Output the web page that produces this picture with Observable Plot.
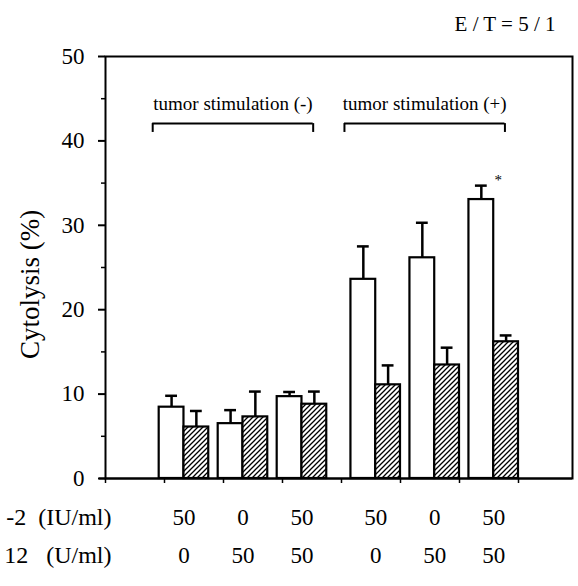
<!DOCTYPE html>
<html>
<head>
<meta charset="utf-8">
<script src="https://cdn.jsdelivr.net/npm/d3@7"></script>
<script src="https://cdn.jsdelivr.net/npm/@observablehq/plot@0.6"></script>
<style>
  html, body { margin: 0; padding: 0; background: white; overflow: hidden; }
  svg { display: block; }
</style>
</head>
<body>
<div id="chart"></div>
<script>
// ---- data ----
const il2Doses = ["50", "0", "50", "50", "0", "50"];
const il12Doses = ["0", "50", "50", "0", "50", "50"];
const openMean = [8.45, 6.5, 9.7, 23.6, 26.15, 33.05];
const openErr = [1.35, 1.6, 0.55, 3.9, 4.15, 1.65];
const hatchMean = [6.1, 7.3, 8.8, 11.1, 13.45, 16.2];
const hatchErr = [1.9, 3.0, 1.5, 2.3, 2.05, 0.75];
const bracketLabels = ["tumor stimulation (-)", "tumor stimulation (+)"];
const bracketGroups = [[0, 2], [3, 5]];
const rowLabels = ["-2\u00a0\u00a0(IU/ml)", "12\u00a0\u00a0\u00a0(U/ml)"];
const yTicks = [0, 10, 20, 30, 40, 50];
const yMinor = [5, 15, 25, 35, 45];
const yLabel = "Cytolysis (%)";
const title = "E / T = 5 / 1";

// ---- layout helpers ----
const center = i => 1.33 + i + (i >= 3 ? 0.25 : 0);
const bw = 0.42;
const cap = 0.1;
const rows = il2Doses.map((d, i) => ({
  c: center(i), il2: d, il12: il12Doses[i],
  om: openMean[i], oe: openErr[i], hm: hatchMean[i], he: hatchErr[i]
}));
const brackets = bracketLabels.map((t, k) => ({
  text: t,
  x1: center(bracketGroups[k][0]) - 0.53,
  x2: center(bracketGroups[k][1]) + 0.19
}));
const bracketY = 42.05, bracketTick = 41.0;

const font = "'Liberation Serif', 'Times New Roman', serif";

const chart = Plot.plot({
  width: 578, height: 586,
  marginLeft: 105, marginRight: 6, marginTop: 56, marginBottom: 108,
  style: {fontFamily: font, fontSize: "23px", color: "black", background: "white"},
  x: {type: "linear", domain: [0, 467 / 59], axis: null},
  y: {domain: [0, 50], axis: null},
  marks: [
    Plot.frame({stroke: "black", strokeWidth: 2}),
    Plot.ruleY([0], {x1: -6 / 59, x2: 467 / 59, stroke: "black", strokeWidth: 2}),
    Plot.axisY({ticks: yTicks, tickSize: 7, tickPadding: 14, tickFormat: d => String(d), label: null, strokeWidth: 2, fontSize: 23}),
    Plot.axisY({ticks: yMinor, tickSize: 4, tickFormat: () => "", label: null, strokeWidth: 1.5}),
    Plot.axisX({ticks: d3.range(0, 8), tickSize: 5, tickFormat: () => "", label: null, strokeWidth: 1.5}),
    // error bars (upper only)
    Plot.ruleX(rows, {x: d => d.c - bw / 2, y1: d => d.om, y2: d => d.om + d.oe, strokeWidth: 2.5}),
    Plot.ruleY(rows, {y: d => d.om + d.oe, x1: d => d.c - bw / 2 - cap, x2: d => d.c - bw / 2 + cap, strokeWidth: 2.5}),
    Plot.ruleX(rows, {x: d => d.c + bw / 2, y1: d => d.hm, y2: d => d.hm + d.he, strokeWidth: 2.5}),
    Plot.ruleY(rows, {y: d => d.hm + d.he, x1: d => d.c + bw / 2 - cap, x2: d => d.c + bw / 2 + cap, strokeWidth: 2.5}),
    // bars
    Plot.rectY(rows, {x1: d => d.c - bw, x2: d => d.c, y1: 0, y2: d => d.om, fill: "white", stroke: "black", strokeWidth: 2.2}),
    Plot.rectY(rows, {x1: d => d.c, x2: d => d.c + bw, y1: 0, y2: d => d.hm, fill: "url(#hatch)", stroke: "black", strokeWidth: 2.2}),
    // significance mark
    Plot.text(rows.slice(5), {x: d => d.c - bw / 2, y: d => d.om + d.oe, text: () => "*", dx: 17, dy: -5, fontSize: 15}),
    // brackets
    Plot.ruleY(brackets, {y: bracketY, x1: "x1", x2: "x2", strokeWidth: 2}),
    Plot.ruleX(brackets, {x: "x1", y1: bracketTick, y2: bracketY, strokeWidth: 2}),
    Plot.ruleX(brackets, {x: "x2", y1: bracketTick, y2: bracketY, strokeWidth: 2}),
    Plot.text(brackets, {x: d => (d.x1 + d.x2) / 2, y: 44.4, text: "text", fontSize: 19}),
    // x labels
    Plot.text(rows, {x: "c", text: "il2", frameAnchor: "bottom", dy: 46}),
    Plot.text(rows, {x: "c", text: "il12", frameAnchor: "bottom", dy: 84}),
    Plot.text([rowLabels[0]], {frameAnchor: "bottom-left", textAnchor: "end", dx: 6, dy: 46, fontSize: 24}),
    Plot.text([rowLabels[1]], {frameAnchor: "bottom-left", textAnchor: "end", dx: 6, dy: 84, fontSize: 24}),
    // y label
    Plot.text([yLabel], {x: () => -1.27, y: () => 23, rotate: -90, fontSize: 27}),
    // title
    Plot.text([title], {frameAnchor: "top-right", textAnchor: "end", dx: -17, dy: -40, fontSize: 21})
  ]
});

d3.select(chart).insert("defs", ":first-child").html(
  `<pattern id="hatch" patternUnits="userSpaceOnUse" width="5" height="5">
     <rect width="5" height="5" fill="white"/>
     <path d="M-1,1 l2,-2 M0,5 l5,-5 M4,6 l2,-2" stroke="black" stroke-width="1.3"/>
   </pattern>`
);

document.getElementById("chart").appendChild(chart);
</script>
</body>
</html>
